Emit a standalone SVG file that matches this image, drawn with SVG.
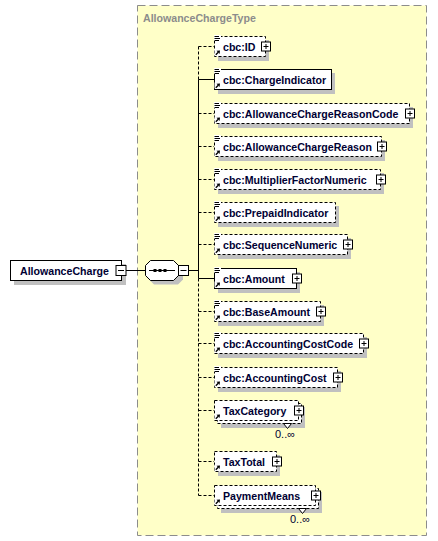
<svg xmlns="http://www.w3.org/2000/svg" xmlns:xlink="http://www.w3.org/1999/xlink" width="438" height="541" viewBox="0 0 438 541">
<style>
.bg{fill:#ffffc8;stroke:#8c8c8c;stroke-width:1;stroke-dasharray:8,4}
.typ{font-family:"Liberation Sans",Arial,sans-serif;font-weight:bold;font-size:10.6px;fill:#8c8c8c}
.sh{fill:#c0c0c0}
.box{fill:#ffffff;stroke:#000000;stroke-width:1}
.opt{fill:#ffffff;stroke:#000000;stroke-width:1;stroke-dasharray:3,2}
.lbl{font-family:"Liberation Sans",Arial,sans-serif;font-weight:bold;font-size:10.6px;fill:#000033}
.occ{font-family:"Liberation Sans",Arial,sans-serif;font-size:11px;fill:#000033}
.ln{stroke:#000000;stroke-width:1;fill:none}
.dl{stroke:#000000;stroke-width:1;fill:none;stroke-dasharray:3,2}
</style>
<defs>
<g id="plus"><rect x="0" y="0" width="9" height="9" fill="#ffffff" stroke="#000000"/><path d="M2,4.5H7M4.5,2V7" stroke="#000000"/></g>
<g id="minus"><rect x="0" y="0" width="10" height="10" fill="#ffffff" stroke="#000000"/><path d="M2,5H8" stroke="#000000"/></g>
<g id="doc"><rect x="-0.5" y="-1" width="7" height="6" fill="#ffffff"/><path d="M0,0.5H4.5M0,2.5H5.5M0,4.5H4.5" stroke="#000000"/></g>
<g id="ref"><rect x="-0.5" y="-0.5" width="6" height="6" fill="#ffffff"/><path d="M0.8,4.8L3.3,2.3" stroke="#000000" stroke-width="1.3"/><polygon points="5,0.5 1.5,0.8 4.6,4" fill="#000000"/></g>
</defs>

<rect class="bg" x="137.5" y="5.5" width="289" height="530"/>
<text class="typ" x="143" y="22">AllowanceChargeType</text>

<g id="connectors">
<path class="ln" d="M126,270.5H145.5"/>
<path class="ln" d="M188.5,270.5H198.5"/>
<path class="dl" d="M198.5,46.5V79.5"/>
<path class="ln" d="M198.5,79.5V278.5"/>
<path class="dl" d="M198.5,278.5V495.5"/>
<path class="dl" d="M198.5,46.5H214"/>
<path class="ln" d="M198.5,79.5H214"/>
<path class="dl" d="M198.5,113.5H214"/>
<path class="dl" d="M198.5,146.5H214"/>
<path class="dl" d="M198.5,179.5H214"/>
<path class="dl" d="M198.5,212.5H214"/>
<path class="dl" d="M198.5,244.5H214"/>
<path class="ln" d="M198.5,278.5H214"/>
<path class="dl" d="M198.5,311.5H214"/>
<path class="dl" d="M198.5,343.5H214"/>
<path class="dl" d="M198.5,377.5H214"/>
<path class="dl" d="M198.5,410.5H214"/>
<path class="dl" d="M198.5,461.5H214"/>
<path class="dl" d="M198.5,495.5H214"/>
</g>

<g id="AllowanceCharge">
<rect class="sh" x="14" y="264" width="112" height="21"/>
<rect class="box" x="10.5" y="260.5" width="111" height="20"/>
<text class="lbl" x="20" y="274.5">AllowanceCharge</text>
<use xlink:href="#minus" href="#minus" x="116" y="265.5"/>
</g>

<g id="sequence">
<polygon class="sh" points="154,264.5 178,264.5 183,269.5 183,279.5 178,284.5 154,284.5 149,279.5 149,269.5"/>
<polygon class="box" points="150.5,260.5 173.5,260.5 178.5,265.5 178.5,275.5 173.5,280.5 150.5,280.5 145.5,275.5 145.5,265.5"/>
<path class="ln" d="M149,270.5H175"/>
<rect x="153.5" y="269" width="3" height="3" fill="#000000"/>
<rect x="158.5" y="269" width="3" height="3" fill="#000000"/>
<rect x="163.5" y="269" width="3" height="3" fill="#000000"/>
<use xlink:href="#minus" href="#minus" x="178.5" y="265.5"/>
</g>

<g id="cbc_ID">
<rect class="sh" x="218" y="40" width="51" height="21"/>
<rect class="opt" x="214.5" y="36.5" width="51" height="20"/>
<use xlink:href="#doc" href="#doc" x="214.5" y="36"/>
<use xlink:href="#ref" href="#ref" x="215" y="50"/>
<text class="lbl" x="223" y="50.5">cbc:ID</text>
<use xlink:href="#plus" href="#plus" x="261.5" y="42"/>
</g>

<g id="cbc_ChargeIndicator">
<rect class="sh" x="218" y="73" width="117" height="21"/>
<rect class="box" x="214.5" y="69.5" width="117" height="20"/>
<use xlink:href="#doc" href="#doc" x="214.5" y="69"/>
<use xlink:href="#ref" href="#ref" x="215" y="83"/>
<text class="lbl" x="223" y="83.5">cbc:ChargeIndicator</text>
</g>

<g id="cbc_AllowanceChargeReasonCode">
<rect class="sh" x="218" y="107" width="195" height="21"/>
<rect class="opt" x="214.5" y="103.5" width="195" height="20"/>
<use xlink:href="#doc" href="#doc" x="214.5" y="103"/>
<use xlink:href="#ref" href="#ref" x="215" y="117"/>
<text class="lbl" x="223" y="117.5">cbc:AllowanceChargeReasonCode</text>
<use xlink:href="#plus" href="#plus" x="405.5" y="109"/>
</g>

<g id="cbc_AllowanceChargeReason">
<rect class="sh" x="218" y="140" width="167" height="21"/>
<rect class="opt" x="214.5" y="136.5" width="167" height="20"/>
<use xlink:href="#doc" href="#doc" x="214.5" y="136"/>
<use xlink:href="#ref" href="#ref" x="215" y="150"/>
<text class="lbl" x="223" y="150.5">cbc:AllowanceChargeReason</text>
<use xlink:href="#plus" href="#plus" x="377.5" y="142"/>
</g>

<g id="cbc_MultiplierFactorNumeric">
<rect class="sh" x="218" y="173" width="166" height="21"/>
<rect class="opt" x="214.5" y="169.5" width="166" height="20"/>
<use xlink:href="#doc" href="#doc" x="214.5" y="169"/>
<use xlink:href="#ref" href="#ref" x="215" y="183"/>
<text class="lbl" x="223" y="183.5">cbc:MultiplierFactorNumeric</text>
<use xlink:href="#plus" href="#plus" x="376.5" y="175"/>
</g>

<g id="cbc_PrepaidIndicator">
<rect class="sh" x="218" y="206" width="121" height="21"/>
<rect class="opt" x="214.5" y="202.5" width="121" height="20"/>
<use xlink:href="#doc" href="#doc" x="214.5" y="202"/>
<use xlink:href="#ref" href="#ref" x="215" y="216"/>
<text class="lbl" x="223" y="216.5">cbc:PrepaidIndicator</text>
</g>

<g id="cbc_SequenceNumeric">
<rect class="sh" x="218" y="238" width="133" height="21"/>
<rect class="opt" x="214.5" y="234.5" width="133" height="20"/>
<use xlink:href="#doc" href="#doc" x="214.5" y="234"/>
<use xlink:href="#ref" href="#ref" x="215" y="248"/>
<text class="lbl" x="223" y="248.5">cbc:SequenceNumeric</text>
<use xlink:href="#plus" href="#plus" x="343.5" y="240"/>
</g>

<g id="cbc_Amount">
<rect class="sh" x="218" y="272" width="82" height="21"/>
<rect class="box" x="214.5" y="268.5" width="82" height="20"/>
<use xlink:href="#doc" href="#doc" x="214.5" y="268"/>
<use xlink:href="#ref" href="#ref" x="215" y="282"/>
<text class="lbl" x="223" y="282.5">cbc:Amount</text>
<use xlink:href="#plus" href="#plus" x="292.5" y="274"/>
</g>

<g id="cbc_BaseAmount">
<rect class="sh" x="218" y="305" width="106" height="21"/>
<rect class="opt" x="214.5" y="301.5" width="106" height="20"/>
<use xlink:href="#doc" href="#doc" x="214.5" y="301"/>
<use xlink:href="#ref" href="#ref" x="215" y="315"/>
<text class="lbl" x="223" y="315.5">cbc:BaseAmount</text>
<use xlink:href="#plus" href="#plus" x="316.5" y="307"/>
</g>

<g id="cbc_AccountingCostCode">
<rect class="sh" x="218" y="337" width="149" height="21"/>
<rect class="opt" x="214.5" y="333.5" width="149" height="20"/>
<use xlink:href="#doc" href="#doc" x="214.5" y="333"/>
<use xlink:href="#ref" href="#ref" x="215" y="347"/>
<text class="lbl" x="223" y="347.5">cbc:AccountingCostCode</text>
<use xlink:href="#plus" href="#plus" x="359.5" y="339"/>
</g>

<g id="cbc_AccountingCost">
<rect class="sh" x="218" y="371" width="123" height="21"/>
<rect class="opt" x="214.5" y="367.5" width="123" height="20"/>
<use xlink:href="#doc" href="#doc" x="214.5" y="367"/>
<use xlink:href="#ref" href="#ref" x="215" y="381"/>
<text class="lbl" x="223" y="381.5">cbc:AccountingCost</text>
<use xlink:href="#plus" href="#plus" x="333.5" y="373"/>
</g>

<g id="TaxCategory">
<rect class="sh" x="221" y="407" width="84" height="21"/>
<rect class="opt" x="217.5" y="403.5" width="84" height="20"/>
<polygon points="283.5,423.5 287.5,428.5 291.5,423.5" fill="#ffffff" stroke="#000000"/>
<rect class="opt" x="214.5" y="400.5" width="84" height="20"/>
<use xlink:href="#ref" href="#ref" x="215" y="414"/>
<text class="lbl" x="223" y="414.5">TaxCategory</text>
<use xlink:href="#plus" href="#plus" x="294.5" y="406"/>
<text class="occ" x="285" y="437.5" text-anchor="middle">0..∞</text>
</g>

<g id="TaxTotal">
<rect class="sh" x="218" y="455" width="62" height="21"/>
<rect class="opt" x="214.5" y="451.5" width="62" height="20"/>
<use xlink:href="#ref" href="#ref" x="215" y="465"/>
<text class="lbl" x="223" y="465.5">TaxTotal</text>
<use xlink:href="#plus" href="#plus" x="272.5" y="457"/>
</g>

<g id="PaymentMeans">
<rect class="sh" x="221" y="492" width="101" height="21"/>
<rect class="opt" x="217.5" y="488.5" width="101" height="20"/>
<polygon points="298.5,508.5 302.5,513.5 306.5,508.5" fill="#ffffff" stroke="#000000"/>
<rect class="opt" x="214.5" y="485.5" width="101" height="20"/>
<use xlink:href="#ref" href="#ref" x="215" y="499"/>
<text class="lbl" x="223" y="499.5">PaymentMeans</text>
<use xlink:href="#plus" href="#plus" x="311.5" y="491"/>
<text class="occ" x="300" y="522.5" text-anchor="middle">0..∞</text>
</g>
</svg>
